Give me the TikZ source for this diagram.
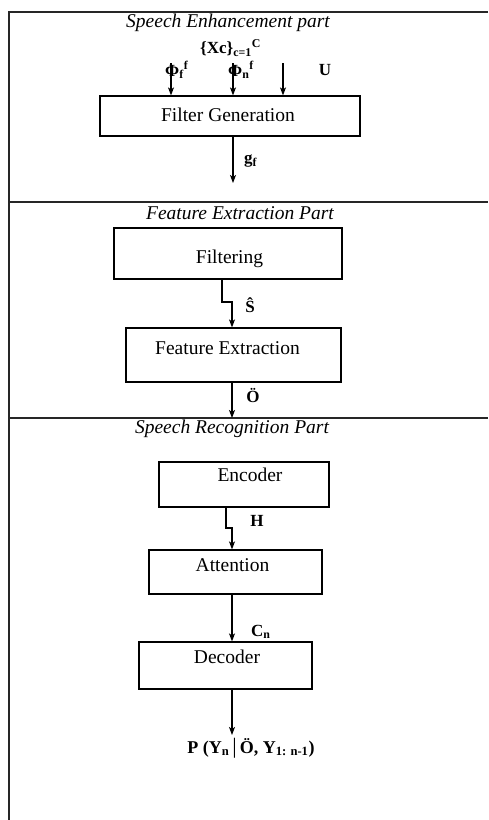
\documentclass[tikz,border=0pt]{standalone}
\usepackage{fontspec}
\setmainfont{Liberation Serif}
\usetikzlibrary{arrows.meta}
\tikzset{
  frame/.style={line width=1.3pt, draw=black!85},
  box/.style={draw, line width=1.2pt, inner sep=0pt},
  arr/.style={line width=1.1pt, -{Stealth[length=8pt,width=6pt,inset=2pt]}},
  title/.style={font=\fontsize{19.5}{21}\selectfont\itshape, inner sep=0pt},
  boxtext/.style={font=\fontsize{19.5}{21}\selectfont, inner sep=0pt},
  lab/.style={font=\fontsize{17}{19}\selectfont\bfseries, inner sep=0pt},
}
\begin{document}
\begin{tikzpicture}[x=1pt,y=-1pt]
\useasboundingbox (0,0) rectangle (488,820);
% frame and dividers
\draw[frame] (488,12) -- (9,12) -- (9,820);
\draw[frame] (9,202) -- (488,202);
\draw[frame] (9,418) -- (488,418);

% section titles
\node[title] (t1) at (228,23) {Speech Enhancement part};
\node[title] (t2) at (240,213) {Feature Extraction Part};
\node[title] (t3) at (232,429) {Speech Recognition Part};

% boxes
\node[box, minimum width=260, minimum height=40] (fg) at (230,116) {};
\node[boxtext] at (228,115) {Filter Generation};
\node[box, minimum width=228, minimum height=51] (filt) at (228,253.5) {};
\node[boxtext] at (229.5,259) {Filtering};
\node[box, minimum width=215, minimum height=54] (fe) at (233.5,355) {};
\node[boxtext] at (227.5,348) {Feature Extraction};
\node[box, minimum width=170, minimum height=45] (enc) at (244,484.5) {};
\node[boxtext] at (250,475) {Encoder};
\node[box, minimum width=173, minimum height=44] (att) at (235.5,572) {};
\node[boxtext] at (232.5,565) {Attention};
\node[box, minimum width=173, minimum height=47] (dec) at (225.5,665.5) {};
\node[boxtext] at (227,657) {Decoder};

% input labels
\node[lab, anchor=west] (xc) at (200,48) {\{Xc\}\textsubscript{c=1}\textsuperscript{C}};
\node[lab, anchor=west] (phif) at (165,70) {Φ\textsubscript{f}\textsuperscript{f}};
\node[lab, anchor=west] (phin) at (228,70) {Φ\textsubscript{n}\textsuperscript{f}};
\node[lab] (u) at (325,70) {U};

% input arrows
\coordinate (i1) at (171,63);
\coordinate (i2) at (233,63);
\coordinate (i3) at (283,63);
\draw[arr] (i1) -- (i1 |- fg.north);
\draw[arr] (i2) -- (i2 |- fg.north);
\draw[arr] (i3) -- (i3 |- fg.north);

% g_f
\coordinate (gend) at (233,183);
\draw[arr] (gend |- fg.south) -- (gend);
\node[lab, anchor=west] (gf) at (244,161) {g\textsubscript{f}};

% filtering -> feature extraction
\coordinate (j1) at (222,302);
\coordinate (j2) at (232,302);
\draw[arr] (j1 |- filt.south) -- (j1) -- (j2) -- (j2 |- fe.north);
\node[lab] (sh) at (250,305) {Ŝ};

% feature extraction -> divider
\coordinate (oend) at (232,418);
\draw[arr] (oend |- fe.south) -- (oend);
\node[lab] (oo) at (253,396) {Ö};

% encoder -> attention
\coordinate (k1) at (226,528);
\coordinate (k2) at (232,528);
\draw[arr] (k1 |- enc.south) -- (k1) -- (k2) -- (k2 |- att.north);
\node[lab] (hh) at (257,521) {H};

% attention -> decoder
\coordinate (c1) at (232,600);
\draw[arr] (c1 |- att.south) -- (c1 |- dec.north);
\node[lab, anchor=west] (cn) at (251,632) {C\textsubscript{n}};

% decoder -> output
\coordinate (pend) at (232,735);
\draw[arr] (pend |- dec.south) -- (pend);
\node[lab, font=\fontsize{18}{20}\selectfont\bfseries] (pp) at (251,748) {P (Y\textsubscript{n}\,{\fontsize{22}{22}\selectfont\mdseries\textbar}\,Ö, Y\textsubscript{1: n-1})};
\end{tikzpicture}
\end{document}
